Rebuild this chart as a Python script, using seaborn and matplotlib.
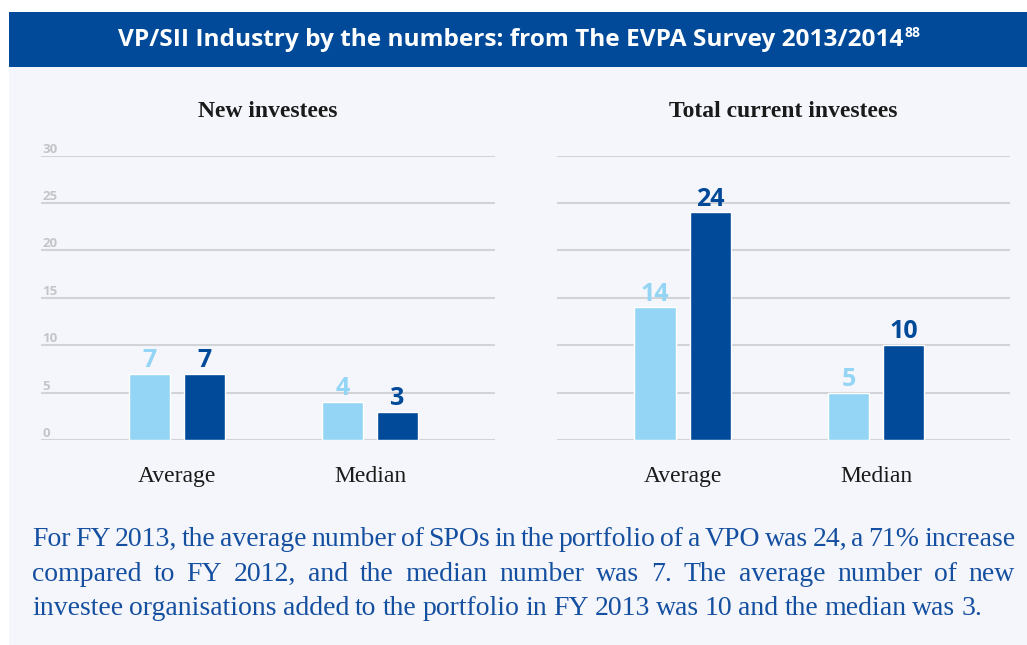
import numpy as np
import pandas as pd
import matplotlib
matplotlib.use('Agg')
import matplotlib.pyplot as plt
import seaborn as sns
from matplotlib.patches import Rectangle

# data
stats = ["Average", "Median"]
years = ["FY 2012", "FY 2013"]
new_2012 = [7, 4]
new_2013 = [7, 3]
total_2012 = [14, 5]
total_2013 = [24, 10]
yticks = [0, 5, 10, 15, 20, 25, 30]

title = "VP/SII Industry by the numbers: from The EVPA Survey 2013/2014"
footnote = "88"
panel_titles = ["New investees", "Total current investees"]
paragraph = [
    "For FY 2013, the average number of SPOs in the portfolio of a VPO was 24, a 71% increase",
    "compared to FY 2012, and the median number was 7. The average number of new",
    "investee organisations added to the portfolio in FY 2013 was 10 and the median was 3.",
]

light = "#94D5F5"
dark = "#004A99"
bg = "#F4F6FB"
grid_c = "#D2D3D6"
tick_c = "#C4C5C8"
para_c = "#154FA0"

sns.set_theme(style="white")
plt.rcParams['font.family'] = ['Open Sans', 'DejaVu Sans']

W, H = 1027, 645
fig = plt.figure(figsize=(W / 100, H / 100), dpi=100)
fig.patch.set_facecolor("white")

# panel background and header band
fig.patches.append(Rectangle((9 / W, 0), 1, 1 - 67 / H, transform=fig.transFigure,
                             facecolor=bg, edgecolor="none", zorder=-2))
fig.patches.append(Rectangle((9 / W, 1 - 67 / H), 1, 55 / H, transform=fig.transFigure,
                             facecolor=dark, edgecolor="none", zorder=-2))


def make_df(a, b):
    return pd.DataFrame({
        "stat": stats * 2,
        "year": [years[0]] * 2 + [years[1]] * 2,
        "value": a + b,
    })


panels = [
    (make_df(new_2012, new_2013), [41, 495], (-0.705, 1.648), True),
    (make_df(total_2012, total_2013), [557, 1010], (-0.649, 1.693), False),
]

y0, y1 = 440, 155.5
for i, (df, (xa, xb), xl, show_y) in enumerate(panels):
    ax = fig.add_axes([xa / W, 1 - y0 / H, (xb - xa) / W, (y0 - y1) / H])
    ax.set_facecolor("none")
    sns.barplot(data=df, x="stat", y="value", hue="year", palette=[light, dark],
                width=0.57, gap=0.255, ax=ax, legend=False, saturation=1, errorbar=None)
    ax.set_xlim(*xl)
    ax.set_ylim(0, 30)
    ax.set_yticks(yticks)
    ax.set_axisbelow(True)
    ax.grid(axis="y", color=grid_c, linewidth=1.5)
    for s in ax.spines.values():
        s.set_visible(False)
    ax.set_xlabel("")
    ax.set_ylabel("")
    for cont, col in zip(ax.containers, [light, dark]):
        ax.bar_label(cont, padding=0.5, fontsize=18, fontweight="bold", color=col,
                     family="Open Sans")
    ax.tick_params(axis="x", length=0, pad=19)
    for lab in ax.get_xticklabels():
        lab.set_family("Liberation Serif")
        lab.set_fontsize(17)
        lab.set_color("#1a1a1a")
    if show_y:
        ax.tick_params(axis="y", length=0, pad=-1)
        for lab in ax.get_yticklabels():
            lab.set_horizontalalignment("left")
            lab.set_verticalalignment("bottom")
            lab.set_fontsize(9.5)
            lab.set_fontweight("bold")
            lab.set_color(tick_c)
    else:
        ax.set_yticklabels([])
        ax.tick_params(axis="y", length=0)
    ax.set_title(panel_titles[i], family="Liberation Serif", fontweight="bold",
                 fontsize=17, color="#1a1a1a", pad=28)

# header title with superscript
t = fig.text(511 / W, 1 - 40 / H, title, ha="center", va="center", color="white",
             fontsize=17.6, fontweight="bold", family="Open Sans")
fig.canvas.draw()
r = fig.canvas.get_renderer()
bb = t.get_window_extent(r)
fig.text(bb.x1 / W + 1 / W, 1 - 33 / H, footnote, ha="left", va="center",
         color="white", fontsize=10, fontweight="bold", family="Open Sans")

# justified paragraph
x_left, x_right = 32, 1015
baselines = [546, 581, 615]
fs = 20
for k, (line, yb) in enumerate(zip(paragraph, baselines)):
    words = line.split(" ")
    tmp = [fig.text(0, 0, w_, fontsize=fs, family="Liberation Serif") for w_ in words]
    widths = [tt.get_window_extent(r).width for tt in tmp]
    for tt in tmp:
        tt.remove()
    space = (x_right - x_left - sum(widths)) / (len(words) - 1)
    if k == len(paragraph) - 1:
        space = min(space, 6)
    x = x_left
    for w_, wd in zip(words, widths):
        fig.text(x / W, 1 - yb / H, w_, fontsize=fs, family="Liberation Serif",
                 color=para_c, va="baseline", ha="left")
        x += wd + space

fig.savefig("out.png", dpi=100)
